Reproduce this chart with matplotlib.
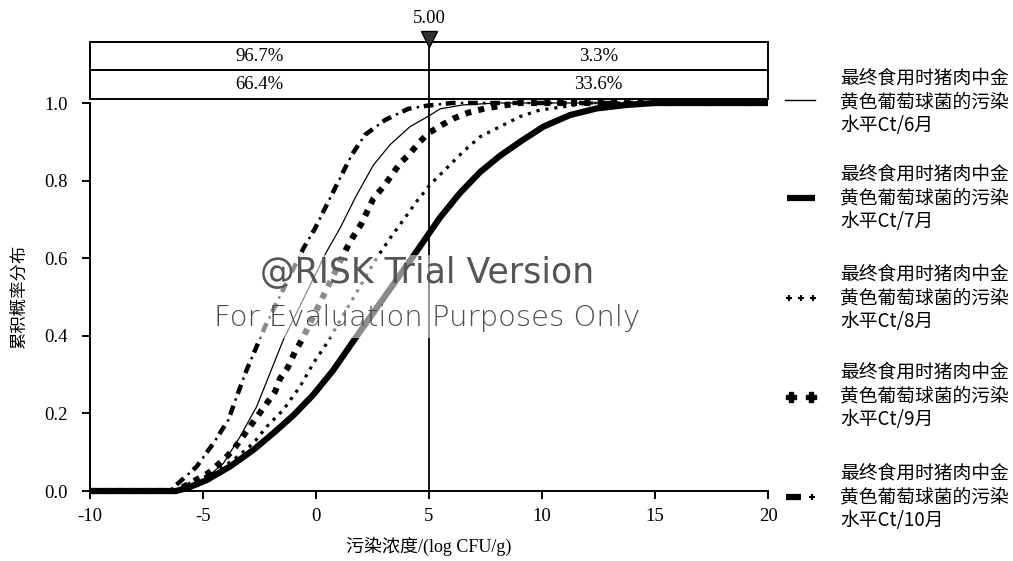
import matplotlib
matplotlib.use("Agg")
import matplotlib.pyplot as plt
from matplotlib.lines import Line2D
from matplotlib.patches import Rectangle
import matplotlib.transforms as mtransforms

plt.rcParams['lines.scale_dashes'] = False

# ---------------- data ----------------
x_jun = [-10, -6.3, -5.13, -4.1, -3.36, -2.63, -2.04, -1.45, 0.47, 1.06, 1.8, 2.54, 3.27, 4.16, 5.0, 5.5, 6.5, 8.0, 20]
y_jun = [0, 0, 0.02, 0.071, 0.14, 0.217, 0.303, 0.389, 0.617, 0.677, 0.763, 0.84, 0.892, 0.939, 0.967, 0.985, 0.995, 1.0, 1.0]

x_jul = [-10, -6.2, -5.72, -4.84, -3.81, -2.77, -1.89, -1.0, -0.12, 0.77, 1.72, 4.6, 5.49, 6.37, 7.26, 8.14, 9.03, 10.06, 11.24, 12.42, 13.75, 15, 20]
y_jul = [0, 0, 0.007, 0.028, 0.063, 0.106, 0.149, 0.195, 0.248, 0.312, 0.392, 0.63, 0.705, 0.768, 0.822, 0.864, 0.9, 0.939, 0.969, 0.986, 0.995, 1.0, 1.0]

x_aug = [-10, -6.2, -5.58, -4.54, -3.66, -2.77, -2.18, -1.45, -0.71, -0.12, 0.47, 2.68, 3.27, 3.86, 4.45, 5.04, 5.78, 6.52, 7.26, 8.14, 9.03, 9.91, 10.94, 12, 20]
y_aug = [0, 0, 0.02, 0.046, 0.08, 0.123, 0.166, 0.209, 0.269, 0.329, 0.38, 0.6, 0.651, 0.698, 0.746, 0.789, 0.832, 0.875, 0.913, 0.939, 0.965, 0.982, 0.99, 1.0, 1.0]

x_sep = [-10, -6.2, -4.77, -4.1, -3.66, -3.29, -2.92, -2.55, -2.18, -1.81, -1.59, -1.23, -0.93, -0.63, 1.35, 1.65, 2.02, 2.54, 2.98, 3.35, 3.72, 4.16, 4.53, 4.97, 5.56, 6.08, 6.74, 7.48, 9, 20]
y_sep = [0, 0, 0.046, 0.08, 0.106, 0.136, 0.166, 0.196, 0.226, 0.256, 0.29, 0.32, 0.359, 0.389, 0.625, 0.656, 0.69, 0.754, 0.784, 0.814, 0.845, 0.87, 0.896, 0.922, 0.943, 0.96, 0.975, 0.986, 1.0, 1.0]

x_oct = [-10, -6.5, -6.02, -5.28, -4.54, -3.88, -3.51, -3.07, -2.63, -2.26, -0.56, -0.04, 0.47, 1.06, 1.58, 2.17, 3.05, 4.08, 4.9, 6, 20]
y_oct = [0, 0, 0.024, 0.063, 0.123, 0.183, 0.243, 0.312, 0.372, 0.423, 0.625, 0.677, 0.737, 0.806, 0.866, 0.918, 0.956, 0.985, 0.993, 1.0, 1.0]

legend_line1 = "最终食用时猪肉中金"
legend_line2 = "黄色葡萄球菌的污染"
months = ["水平Ct/6月", "水平Ct/7月", "水平Ct/8月", "水平Ct/9月", "水平Ct/10月"]

marker_value = 5.00
left_pcts = ["96.7%", "66.4%"]
right_pcts = ["3.3%", "33.6%"]

xticks = [-10, -5, 0, 5, 10, 15, 20]
yticks = [0.0, 0.2, 0.4, 0.6, 0.8, 1.0]
xlabel = "污染浓度/(log CFU/g)"
ylabel = "累积概率分布"

# ---------------- figure ----------------
W, H = 1013, 561
fig = plt.figure(figsize=(W / 100, H / 100), dpi=100)
ax = fig.add_axes([90 / W, 70 / H, 678 / W, 388 / H])

serif = ['Liberation Serif', 'Noto Sans CJK SC']
cjk = ['Noto Sans CJK SC', 'DejaVu Sans']

ax.set_xlim(-10, 20)
ax.set_ylim(0, 1.0)

kw = dict(color='black', clip_on=False, solid_capstyle='butt', dash_capstyle='butt', zorder=3)
ax.plot(x_jun, y_jun, lw=0.9, **kw)
ax.plot(x_jul, y_jul, lw=4.5, **kw)
ax.plot(x_aug, y_aug, lw=2.3, linestyle=(0, (2.3, 4.2)), **kw)
ax.plot(x_sep, y_sep, lw=4.4, linestyle=(0, (4.4, 5.2)), **kw)
ax.plot(x_oct, y_oct, lw=3.2, linestyle=(0, (7.0, 9.0)), **kw)
ax.plot(x_oct, y_oct, lw=1.8, linestyle=(5.2, (1.8, 14.2)), **kw)

# vertical marker line
ax.axvline(marker_value, color='black', lw=1.3, zorder=4)

# spines / ticks
for s in ['top', 'right']:
    ax.spines[s].set_visible(False)
for s in ['left', 'bottom']:
    ax.spines[s].set_linewidth(1.4)
ax.set_xticks(xticks)
ax.set_xticklabels([str(t) for t in xticks])
ax.set_yticks(yticks)
ax.set_yticklabels([f"{t:.1f}" for t in yticks])
ax.tick_params(direction='out', length=6, width=1.4, labelsize=13.5, pad=4)
for lab in ax.get_xticklabels() + ax.get_yticklabels():
    lab.set_family(serif)
ax.tick_params(axis='x', pad=6)
ax.tick_params(axis='y', pad=10)

ax.set_xlabel(xlabel, family=serif, fontsize=13, labelpad=9)
ax.set_ylabel(ylabel, family=cjk, fontsize=12.5, labelpad=12)

# ---------------- watermark ----------------
ax.add_patch(Rectangle((-4.9, 0.394), 19.7, 0.214, facecolor='white', edgecolor='none',
                       alpha=0.55, zorder=5))
ax.text(4.9, 0.562, "@RISK Trial Version", ha='center', va='center', fontsize=25,
        family='DejaVu Sans', color='#555555', zorder=6)
ax.text(4.9, 0.446, "For Evaluation Purposes Only", ha='center', va='center', fontsize=21,
        family='DejaVu Sans', color='#4d4d4d', zorder=6, fontweight='light')

# ---------------- percentage boxes ----------------
trans = mtransforms.blended_transform_factory(ax.transData, ax.transAxes)
y_top, y_mid, y_bot = 1.157, 1.085, 1.010
ax.add_patch(Rectangle((-10, y_bot), 30, y_top - y_bot, transform=trans, fill=False,
                       edgecolor='black', lw=1.4, clip_on=False))
ax.plot([-10, 20], [y_mid, y_mid], transform=trans, color='black', lw=1.4, clip_on=False)
ax.plot([marker_value, marker_value], [1.0, 1.17], transform=trans, color='black', lw=1.3, clip_on=False)
row_y = [(y_top + y_mid) / 2, (y_mid + y_bot) / 2]
for ry, lp, rp in zip(row_y, left_pcts, right_pcts):
    ax.text((-10 + marker_value) / 2, ry, lp, transform=trans, ha='center', va='center',
            fontsize=13.5, family=serif)
    ax.text((marker_value + 20) / 2, ry, rp, transform=trans, ha='center', va='center',
            fontsize=13.5, family=serif)
ax.text(marker_value, 1.219, f"{marker_value:.2f}", transform=trans, ha='center', va='center',
        fontsize=13.5, family=serif)
ax.plot([marker_value], [1.165], marker='v', markersize=11, color='#333333',
        markeredgecolor='black', transform=trans, clip_on=False, zorder=7)

# ---------------- legend (manual) ----------------
def fx(px):
    return px / W

def fy(py):
    return 1 - py / H

entries_y = [102, 198, 298, 396, 497]
for i, (cy, m) in enumerate(zip(entries_y, months)):
    for j, t in enumerate([legend_line1, legend_line2, m]):
        fig.text(fx(840), fy(cy + (j - 1) * 23.5), t, ha='left', va='center',
                 fontsize=13.5, family=cjk)

fig.add_artist(Line2D([fx(785), fx(815)], [fy(100), fy(100)], color='black', lw=1.0))
fig.add_artist(Line2D([fx(787), fx(815)], [fy(198), fy(198)], color='black', lw=4.5,
                      solid_capstyle='butt'))
fig.add_artist(Line2D([fx(789), fx(801), fx(813)], [fy(298)] * 3, color='black', lw=0,
                      marker='+', markersize=5, markeredgewidth=1.5))
fig.add_artist(Line2D([fx(791), fx(811)], [fy(397)] * 2, color='black', lw=0,
                      marker='P', markersize=7.5))
fig.add_artist(Line2D([fx(786), fx(801)], [fy(497), fy(497)], color='black', lw=4.5,
                      solid_capstyle='butt'))
fig.add_artist(Line2D([fx(812)], [fy(497)], color='black', lw=0, marker='+',
                      markersize=5, markeredgewidth=1.5))

fig.savefig("out.png", dpi=100)
